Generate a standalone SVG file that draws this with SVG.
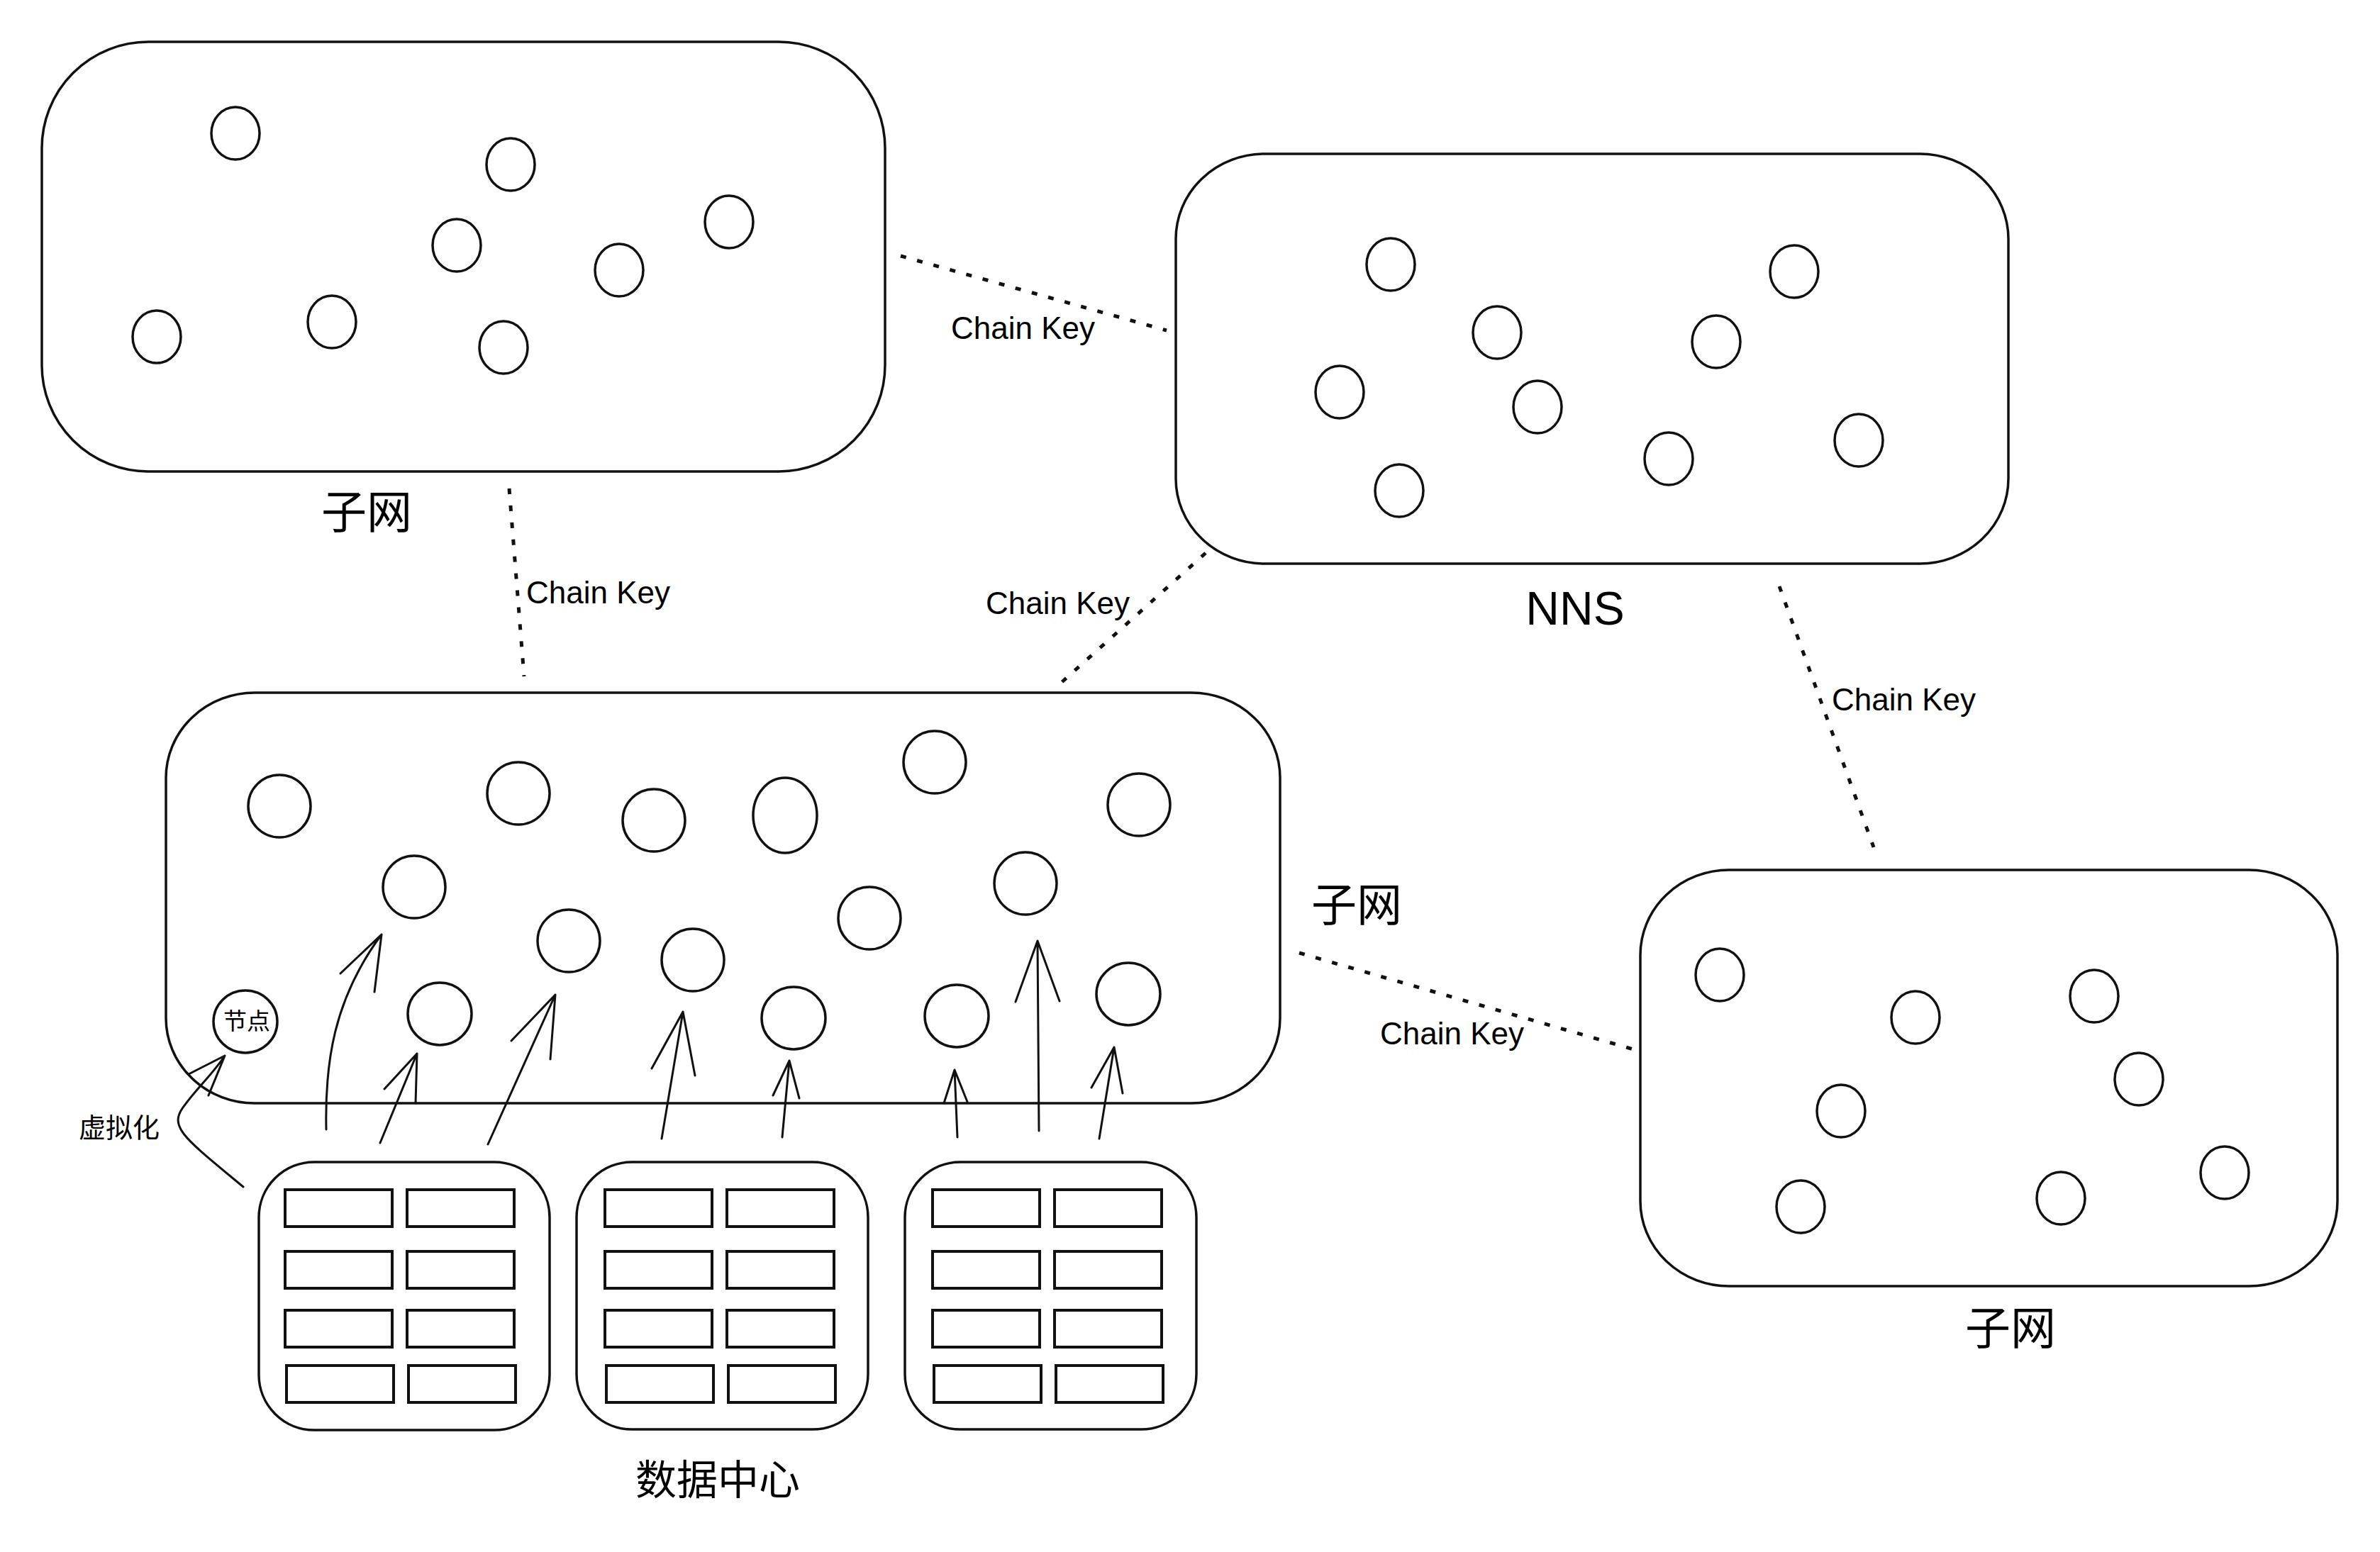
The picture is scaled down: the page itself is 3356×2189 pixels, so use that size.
<svg xmlns="http://www.w3.org/2000/svg" width="3356" height="2189" viewBox="0 0 3356 2189">
<style>
.box{fill:none;stroke:#111;stroke-width:3.5}
.n{fill:none;stroke:#111;stroke-width:3.5}
.r{fill:none;stroke:#111;stroke-width:4}
.dot{fill:none;stroke:#111;stroke-width:5;stroke-dasharray:8 16;stroke-linecap:butt}
.ar{fill:none;stroke:#111;stroke-width:3;stroke-linecap:round;stroke-linejoin:round}
.ck{font-family:"Liberation Sans",Arial,sans-serif;font-size:44px;fill:#000}
.cjk{font-family:"Noto Sans CJK SC","Liberation Sans",sans-serif;fill:#000;text-anchor:middle}
</style>
<rect width="3356" height="2189" fill="#fff"/>
<g id="subnet-top-left">
<rect class="box" x="59" y="59" width="1189" height="606" rx="150" ry="150"/>
<ellipse class="n" cx="332" cy="188" rx="34" ry="37"/>
<ellipse class="n" cx="720" cy="232" rx="34" ry="37"/>
<ellipse class="n" cx="1028" cy="313" rx="34" ry="37"/>
<ellipse class="n" cx="644" cy="346" rx="34" ry="37"/>
<ellipse class="n" cx="873" cy="381" rx="34" ry="37"/>
<ellipse class="n" cx="221" cy="475" rx="34" ry="37"/>
<ellipse class="n" cx="468" cy="454" rx="34" ry="37"/>
<ellipse class="n" cx="710" cy="490" rx="34" ry="37"/>
<text class="cjk" x="517" y="745" font-size="64">子网</text>
</g>
<g id="nns">
<rect class="box" x="1658" y="217" width="1174" height="578" rx="125" ry="120"/>
<ellipse class="n" cx="1961" cy="373" rx="34" ry="37"/>
<ellipse class="n" cx="2111" cy="469" rx="34" ry="37"/>
<ellipse class="n" cx="2530" cy="383" rx="34" ry="37"/>
<ellipse class="n" cx="2420" cy="482" rx="34" ry="37"/>
<ellipse class="n" cx="1889" cy="553" rx="34" ry="37"/>
<ellipse class="n" cx="2168" cy="574" rx="34" ry="37"/>
<ellipse class="n" cx="2353" cy="647" rx="34" ry="37"/>
<ellipse class="n" cx="2621" cy="621" rx="34" ry="37"/>
<ellipse class="n" cx="1973" cy="692" rx="34" ry="37"/>
<text x="2221" y="881" font-family="Liberation Sans, Arial, sans-serif" font-size="66" text-anchor="middle" fill="#000">NNS</text>
</g>
<g id="subnet-middle">
<rect class="box" x="234" y="977" width="1571" height="579" rx="125" ry="120"/>
<ellipse class="n" cx="394" cy="1137" rx="44" ry="44"/>
<ellipse class="n" cx="731" cy="1119" rx="44" ry="44"/>
<ellipse class="n" cx="922" cy="1157" rx="44" ry="44"/>
<ellipse class="n" cx="1107" cy="1150" rx="45" ry="53"/>
<ellipse class="n" cx="1318" cy="1075" rx="44" ry="44"/>
<ellipse class="n" cx="1606" cy="1135" rx="44" ry="44"/>
<ellipse class="n" cx="584" cy="1251" rx="44" ry="44"/>
<ellipse class="n" cx="1446" cy="1246" rx="44" ry="44"/>
<ellipse class="n" cx="1226" cy="1295" rx="44" ry="44"/>
<ellipse class="n" cx="802" cy="1327" rx="44" ry="44"/>
<ellipse class="n" cx="977" cy="1354" rx="44" ry="44"/>
<ellipse class="n" cx="620" cy="1430" rx="45" ry="44"/>
<ellipse class="n" cx="1119" cy="1436" rx="45" ry="44"/>
<ellipse class="n" cx="1349" cy="1433" rx="45" ry="44"/>
<ellipse class="n" cx="1591" cy="1402" rx="45" ry="44"/>
<text class="cjk" x="1913" y="1299" font-size="64">子网</text>
</g>
<g id="node-jiedian">
<ellipse class="n" cx="346" cy="1441" rx="45" ry="44"/>
<text class="cjk" x="348" y="1452" font-size="33">节点</text>
</g>
<g id="subnet-bottom-right">
<rect class="box" x="2313" y="1227" width="983" height="587" rx="125" ry="120"/>
<ellipse class="n" cx="2425" cy="1375" rx="34" ry="37"/>
<ellipse class="n" cx="2701" cy="1435" rx="34" ry="37"/>
<ellipse class="n" cx="2953" cy="1405" rx="34" ry="37"/>
<ellipse class="n" cx="3016" cy="1522" rx="34" ry="37"/>
<ellipse class="n" cx="2596" cy="1567" rx="34" ry="37"/>
<ellipse class="n" cx="2539" cy="1702" rx="34" ry="37"/>
<ellipse class="n" cx="2906" cy="1690" rx="34" ry="37"/>
<ellipse class="n" cx="3137" cy="1654" rx="34" ry="37"/>
<text class="cjk" x="2835" y="1896" font-size="64">子网</text>
</g>
<g id="datacenter-1">
<rect class="box" x="365" y="1639" width="410" height="378" rx="78" ry="78"/>
<rect class="r" x="402" y="1678" width="151" height="52"/>
<rect class="r" x="574" y="1678" width="151" height="52"/>
<rect class="r" x="402" y="1765" width="151" height="52"/>
<rect class="r" x="574" y="1765" width="151" height="52"/>
<rect class="r" x="402" y="1848" width="151" height="52"/>
<rect class="r" x="574" y="1848" width="151" height="52"/>
<rect class="r" x="404" y="1926" width="151" height="52"/>
<rect class="r" x="576" y="1926" width="151" height="52"/>
</g>
<g id="datacenter-2">
<rect class="box" x="813" y="1639" width="411" height="377" rx="78" ry="78"/>
<rect class="r" x="853" y="1678" width="151" height="52"/>
<rect class="r" x="1025" y="1678" width="151" height="52"/>
<rect class="r" x="853" y="1765" width="151" height="52"/>
<rect class="r" x="1025" y="1765" width="151" height="52"/>
<rect class="r" x="853" y="1848" width="151" height="52"/>
<rect class="r" x="1025" y="1848" width="151" height="52"/>
<rect class="r" x="855" y="1926" width="151" height="52"/>
<rect class="r" x="1027" y="1926" width="151" height="52"/>
</g>
<g id="datacenter-3">
<rect class="box" x="1276" y="1639" width="411" height="377" rx="78" ry="78"/>
<rect class="r" x="1315" y="1678" width="151" height="52"/>
<rect class="r" x="1487" y="1678" width="151" height="52"/>
<rect class="r" x="1315" y="1765" width="151" height="52"/>
<rect class="r" x="1487" y="1765" width="151" height="52"/>
<rect class="r" x="1315" y="1848" width="151" height="52"/>
<rect class="r" x="1487" y="1848" width="151" height="52"/>
<rect class="r" x="1317" y="1926" width="151" height="52"/>
<rect class="r" x="1489" y="1926" width="151" height="52"/>
</g>
<g id="label-datacenter">
<text class="cjk" x="1012" y="2108" font-size="58">数据中心</text>
</g>
<g id="connectors">
<line class="dot" x1="1270" y1="361" x2="1645" y2="466"/>
<line class="dot" x1="718" y1="689" x2="739" y2="954"/>
<line class="dot" x1="1700" y1="780" x2="1494" y2="965"/>
<line class="dot" x1="2509" y1="827" x2="2642" y2="1195"/>
<line class="dot" x1="1832" y1="1344" x2="2303" y2="1480"/>
<text class="ck" x="1341" y="478">Chain Key</text>
<text class="ck" x="742" y="851">Chain Key</text>
<text class="ck" x="1390" y="866">Chain Key</text>
<text class="ck" x="2583" y="1002">Chain Key</text>
<text class="ck" x="1946" y="1473">Chain Key</text>
<path class="ar" d="M460,1593 C458,1500 470,1410 538,1318 M480,1373 L538,1318 L528,1399"/>
<path class="ar" d="M536,1612 L588,1486 M542,1536 L588,1486 L586,1556"/>
<path class="ar" d="M688,1614 L783,1403 M721,1468 L783,1403 L776,1494"/>
<path class="ar" d="M933,1606 L963,1427 M919,1507 L963,1427 L980,1517"/>
<path class="ar" d="M1103,1604 L1113,1496 M1090,1545 L1113,1496 L1127,1549"/>
<path class="ar" d="M1350,1604 L1346,1509 M1331,1556 L1346,1509 L1364,1554"/>
<path class="ar" d="M1465,1595 L1463,1327 M1432,1413 L1463,1327 L1494,1412"/>
<path class="ar" d="M1550,1606 L1571,1477 M1539,1534 L1571,1477 L1583,1542"/>
<path class="ar" d="M343,1674 C260,1605 238,1590 258,1562 S300,1515 317,1489 M266,1515 L317,1489 L294,1545"/>
<text class="cjk" x="168" y="1604" font-size="38">虚拟化</text>
</g>
</svg>
